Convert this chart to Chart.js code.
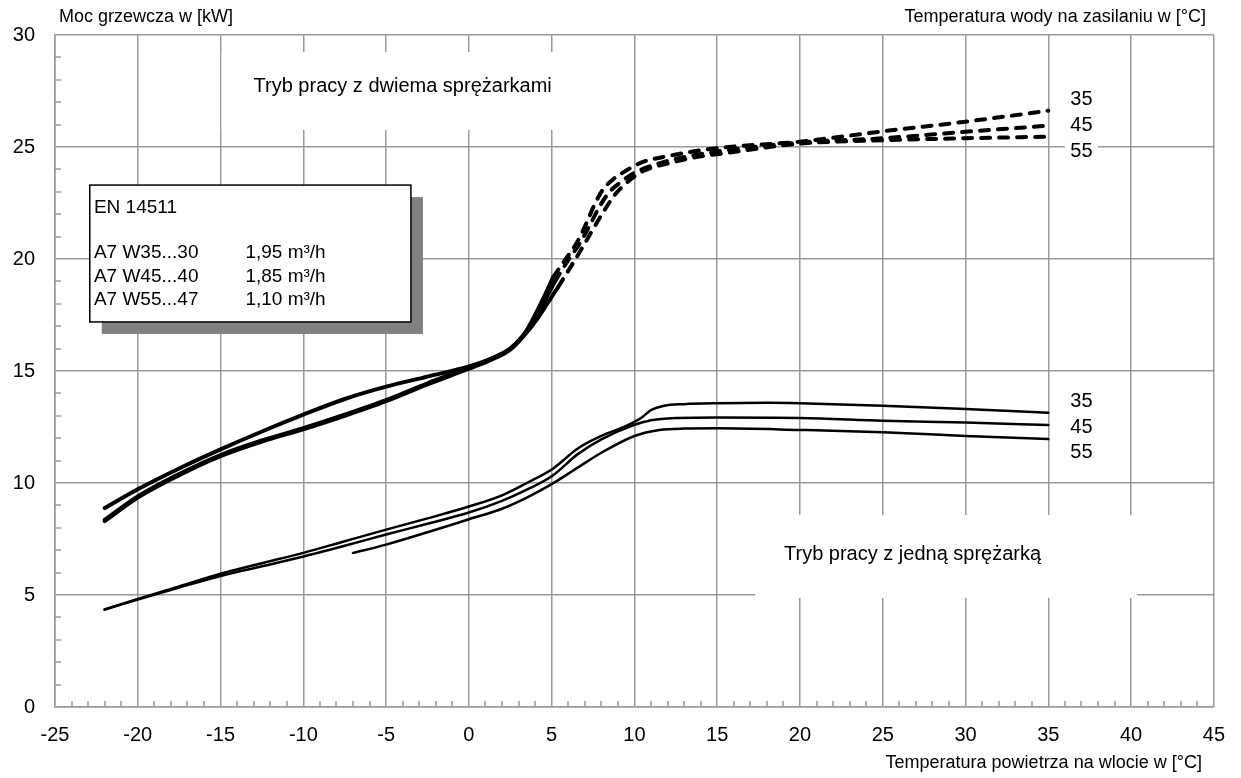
<!DOCTYPE html>
<html>
<head>
<meta charset="utf-8">
<title>Moc grzewcza</title>
<script src="https://cdn.jsdelivr.net/npm/chart.js@4.4.0/dist/chart.umd.min.js"></script>
<style>
  html, body { margin: 0; padding: 0; background: #fff; overflow: hidden; }
  #wrap { width: 1241px; height: 778px; }
  #heat { display: block; }
</style>
</head>
<body>
<div id="wrap"><canvas id="heat"></canvas></div>
<script>
// supply water temperatures [°C]
var flowTemps = ['35', '45', '55'];

// two compressors: [air temperature, heating power kW], solid part up to ~5 °C
var dual35Solid = [[-22, 8.88], [-20, 9.72], [-17.5, 10.65], [-15, 11.5], [-12.5, 12.3], [-10, 13.05], [-7.5, 13.75], [-5, 14.3], [-2.5, 14.75], [0, 15.2], [1.5, 15.6], [2.5, 16.0], [3.3, 16.6], [4.0, 17.5], [4.6, 18.4], [5.1, 19.2]];
var dual45Solid = [[-22, 8.35], [-20, 9.4], [-17.5, 10.4], [-15, 11.25], [-12.5, 11.9], [-10, 12.45], [-7.5, 13.05], [-5, 13.7], [-2.5, 14.45], [0, 15.15], [1.5, 15.6], [2.5, 16.0], [3.3, 16.6], [4.1, 17.4], [4.7, 18.3], [5.2, 19.0]];
var dual55Solid = [[-22, 8.3], [-20, 9.35], [-17.5, 10.35], [-15, 11.2], [-12.5, 11.85], [-10, 12.4], [-7.5, 13.0], [-5, 13.65], [-2.5, 14.4], [0, 15.1], [1.5, 15.55], [2.5, 15.95], [3.3, 16.55], [4.2, 17.4], [4.9, 18.2], [5.4, 18.76]];

// two compressors, dashed part
var dual35Dash = [[5.1, 19.2], [5.8, 19.95], [6.5, 20.7], [7.1, 21.6], [7.6, 22.45], [8.1, 23.1], [8.7, 23.55], [9.4, 23.9], [10.4, 24.3], [12.2, 24.62], [15, 24.95], [20, 25.24], [25, 25.7], [30, 26.13], [35, 26.62]];
var dual45Dash = [[5.2, 19.0], [6.0, 19.95], [6.7, 20.7], [7.3, 21.5], [7.9, 22.35], [8.5, 23.0], [9.2, 23.45], [10.0, 23.85], [11.4, 24.25], [13, 24.55], [15, 24.8], [20, 25.2], [25, 25.39], [30, 25.68], [35, 25.95]];
var dual55Dash = [[5.4, 18.76], [6.4, 19.95], [7.2, 20.95], [8.0, 21.95], [8.8, 22.85], [9.6, 23.45], [10.6, 23.95], [12.2, 24.3], [13.9, 24.57], [15, 24.68], [20, 25.15], [25, 25.3], [30, 25.39], [35, 25.46]];

// one compressor
var single35 = [[-22, 4.35], [-20, 4.82], [-17.5, 5.38], [-15, 5.95], [-12.5, 6.42], [-10, 6.88], [-7.5, 7.4], [-5, 7.92], [-2.5, 8.42], [0, 8.95], [2, 9.45], [3.5, 10.0], [5, 10.6], [6.6, 11.55], [8, 12.1], [9.5, 12.55], [10.4, 12.9], [11, 13.25], [11.8, 13.45], [13, 13.52], [15, 13.56], [18, 13.58], [20, 13.56], [25, 13.45], [30, 13.3], [35, 13.14]];
var single45 = [[-22, 4.35], [-20, 4.8], [-17.5, 5.33], [-15, 5.85], [-12.5, 6.28], [-10, 6.72], [-7.5, 7.2], [-5, 7.7], [-2.5, 8.18], [0, 8.68], [2, 9.2], [3.5, 9.7], [5, 10.3], [6.6, 11.3], [8, 11.95], [10, 12.6], [11, 12.8], [12, 12.88], [15, 12.92], [20, 12.9], [25, 12.78], [30, 12.7], [35, 12.59]];
var single55 = [[-7, 6.88], [-5, 7.25], [-2.5, 7.8], [0, 8.38], [2, 8.85], [3.5, 9.35], [5, 9.95], [6.6, 10.7], [8, 11.35], [10, 12.1], [11.5, 12.37], [13, 12.43], [15, 12.44], [20, 12.37], [25, 12.27], [30, 12.1], [35, 11.96]];

// test points table (EN 14511)
var normRows = ['A7 W35...30', 'A7 W45...40', 'A7 W55...47'];
var normFlows = ['1,95 m³/h', '1,85 m³/h', '1,10 m³/h'];

var FONT = '"Liberation Sans", Arial, Helvetica, sans-serif';
var GRID = '#9a9a9a';

function toPoints(arr) {
    return arr.map(function (p) { return { x: p[0], y: p[1] }; });
}

function curve(points, width, dashed) {
    return {
        data: toPoints(points),
        borderColor: '#000',
        borderWidth: width,
        borderDash: dashed ? [9, 9] : [],
        borderCapStyle: 'round',
        borderJoinStyle: 'round',
        pointRadius: 0,
        cubicInterpolationMode: 'monotone',
        fill: false
    };
}

var decor = {
    id: 'decor',
    beforeDatasetsDraw: function (chart) {
        var c = chart.ctx, xs = chart.scales.x, ys = chart.scales.y, a = chart.chartArea;
        var X = function (v) { return xs.getPixelForValue(v); };
        var Y = function (v) { return ys.getPixelForValue(v); };
        c.save();

        // minor ticks, 1 unit
        c.strokeStyle = GRID;
        c.lineWidth = 1.5;
        c.beginPath();
        for (var v = -25; v <= 45; v++) {
            if (v % 5 === 0) continue;
            var px = Math.round(X(v));
            c.moveTo(px, a.bottom);
            c.lineTo(px, a.bottom - 6);
        }
        for (var w = 0; w <= 30; w++) {
            if (w % 5 === 0) continue;
            var py = Math.round(Y(w));
            c.moveTo(a.left, py);
            c.lineTo(a.left + 6, py);
        }
        c.stroke();

        // white fields behind the mode captions
        c.fillStyle = '#fff';
        c.fillRect(X(-15) + 1, Y(29.24), X(7.8) - X(-15) - 1, Y(25.76) - Y(29.24));
        c.fillRect(X(17.3), Y(8.57), X(40.36) - X(17.3), Y(4.87) - Y(8.57));
        c.fillRect(X(36.0), Y(25.3), X(38.0) - X(36.0), Y(24.3) - Y(25.3));

        // EN 14511 box with shadow
        var bx = X(-22.9), by = Y(23.3), bw = X(-3.5) - bx, bh = Y(17.19) - by;
        c.fillStyle = '#808080';
        c.fillRect(bx + 12, by + 12, bw, bh);
        c.fillStyle = '#fff';
        c.fillRect(bx, by, bw, bh);
        c.strokeStyle = '#000';
        c.lineWidth = 1.5;
        c.strokeRect(bx, by, bw, bh);

        c.fillStyle = '#000';
        c.font = '19px ' + FONT;
        c.textBaseline = 'middle';
        c.textAlign = 'left';
        c.fillText('EN 14511', X(-22.65), Y(22.28));
        var rowY = [20.27, 19.2, 18.17];
        for (var i = 0; i < normRows.length; i++) {
            c.fillText(normRows[i], X(-22.65), Y(rowY[i]));
            c.fillText(normFlows[i], X(-13.5), Y(rowY[i]));
        }
        c.restore();
    },
    afterDatasetsDraw: function (chart) {
        var c = chart.ctx, xs = chart.scales.x, ys = chart.scales.y, a = chart.chartArea;
        var X = function (v) { return xs.getPixelForValue(v); };
        var Y = function (v) { return ys.getPixelForValue(v); };
        c.save();
        c.fillStyle = '#000';
        c.textBaseline = 'middle';

        c.font = '20px ' + FONT;
        c.textAlign = 'center';
        c.fillText('Tryb pracy z dwiema sprężarkami', X(-4.0), Y(27.7));
        c.fillText('Tryb pracy z jedną sprężarką', X(26.8), Y(6.79));

        // curve labels at the right end
        var dashY = [27.14, 25.98, 24.78];
        var solidY = [13.62, 12.5, 11.34];
        for (var i = 0; i < flowTemps.length; i++) {
            c.fillText(flowTemps[i], X(37.0), Y(dashY[i]));
            c.fillText(flowTemps[i], X(37.0), Y(solidY[i]));
        }

        // axis titles
        c.font = '18px ' + FONT;
        c.textAlign = 'left';
        c.fillText('Moc grzewcza w [kW]', a.left + 4, a.top - 18);
        c.textAlign = 'right';
        c.fillText('Temperatura wody na zasilaniu w [°C]', a.right - 8, a.top - 18);
        c.fillText('Temperatura powietrza na wlocie w [°C]', a.right - 12, a.bottom + 56);
        c.restore();
    }
};

var ctx = document.getElementById('heat').getContext('2d');
var myChart = new Chart(ctx, {
    type: 'line',
    data: {
        datasets: [
            curve(dual35Solid, 4, false),
            curve(dual45Solid, 4, false),
            curve(dual55Solid, 4, false),
            curve(dual35Dash, 4, true),
            curve(dual45Dash, 4, true),
            curve(dual55Dash, 4, true),
            curve(single35, 2.5, false),
            curve(single45, 2.5, false),
            curve(single55, 2.5, false)
        ]
    },
    options: {
        responsive: true,
        maintainAspectRatio: false,
        animation: false,
        layout: { padding: { top: 35, right: 21, left: 0, bottom: 0 } },
        plugins: {
            legend: { display: false },
            tooltip: { enabled: false }
        },
        scales: {
            x: {
                type: 'linear',
                min: -25,
                max: 45,
                ticks: { stepSize: 5, padding: 16, color: '#000', font: { family: FONT, size: 20 } },
                grid: { color: GRID, lineWidth: 1.5, drawTicks: false },
                border: { color: GRID, width: 1.5 },
                afterFit: function (s) { s.height = 71; }
            },
            y: {
                min: 0,
                max: 30,
                ticks: { stepSize: 5, padding: 20, color: '#000', font: { family: FONT, size: 20 } },
                grid: { color: GRID, lineWidth: 1.5, drawTicks: false },
                border: { color: GRID, width: 1.5 },
                afterFit: function (s) { s.width = 55; }
            }
        }
    },
    plugins: [decor]
});
</script>
</body>
</html>
